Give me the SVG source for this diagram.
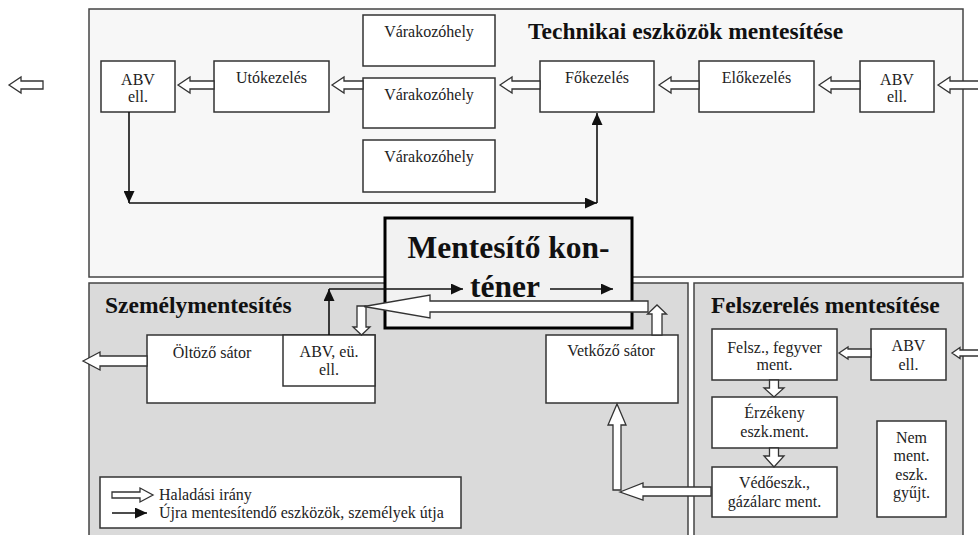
<svg xmlns="http://www.w3.org/2000/svg" width="978" height="535" viewBox="0 0 978 535">
<style>
.pt{fill:#f7f7f7;stroke:#444;stroke-width:1.5}
.pb{fill:#dadada;stroke:#444;stroke-width:1.5}
.box{fill:#fff;stroke:#333;stroke-width:1.5}
.cont{fill:#f2f2f2;stroke:#000;stroke-width:3}
.t{font-family:"Liberation Serif","Times New Roman",serif;font-size:16px;fill:#222;text-anchor:middle}
.tl{font-family:"Liberation Serif","Times New Roman",serif;font-size:16px;fill:#222}
.ti{font-family:"Liberation Serif","Times New Roman",serif;font-size:23.5px;font-weight:bold;fill:#111}
.big{font-family:"Liberation Serif","Times New Roman",serif;font-size:31.5px;font-weight:bold;fill:#111;text-anchor:middle}
.ha{fill:#fff;stroke:#333;stroke-width:1.3}
.bl{fill:none;stroke:#111;stroke-width:1.6;marker-end:url(#ah)}
</style>
<defs>
<marker id="ah" markerUnits="userSpaceOnUse" markerWidth="12" markerHeight="11" refX="12" refY="5.5" orient="auto">
<path d="M0,0 L12,5.5 L0,11 z" fill="#111"/>
</marker>
</defs>
<rect width="978" height="535" fill="#fff"/>
<g id="panel-technikai">
<rect class="pt" x="89" y="9" width="874" height="268"/>
<text class="ti" x="528" y="39">Technikai eszközök mentesítése</text>
</g>
<g id="panel-szemely">
<rect class="pb" x="89" y="283" width="599" height="262"/>
<text class="ti" x="105" y="313">Személymentesítés</text>
</g>
<g id="panel-felszereles">
<rect class="pb" x="694" y="283" width="269" height="262"/>
<text class="ti" x="711" y="313">Felszerelés mentesítése</text>
</g>
<g id="abv-ell-bal"><rect class="box" x="101" y="61" width="74" height="51"/><text class="t" x="138" y="85">ABV</text><text class="t" x="138" y="102">ell.</text></g>
<g id="utokezeles"><rect class="box" x="214" y="61" width="115" height="51"/><text class="t" x="271.5" y="83">Utókezelés</text></g>
<g id="varakozohely-1"><rect class="box" x="363" y="15" width="132" height="51"/><text class="t" x="429" y="37">Várakozóhely</text></g>
<g id="varakozohely-2"><rect class="box" x="363" y="78" width="132" height="50"/><text class="t" x="429" y="100">Várakozóhely</text></g>
<g id="varakozohely-3"><rect class="box" x="363" y="140" width="132" height="52"/><text class="t" x="429" y="162">Várakozóhely</text></g>
<g id="fokezeles"><rect class="box" x="540" y="61" width="114" height="51"/><text class="t" x="597" y="83">Főkezelés</text></g>
<g id="elokezeles"><rect class="box" x="699" y="61" width="115" height="51"/><text class="t" x="756.5" y="83">Előkezelés</text></g>
<g id="abv-ell-jobb"><rect class="box" x="860" y="61" width="74" height="51"/><text class="t" x="897" y="85">ABV</text><text class="t" x="897" y="102">ell.</text></g>
<g id="oltozo-sator"><rect class="box" x="147" y="335" width="228" height="68"/><text class="t" x="212" y="358">Öltöző sátor</text></g>
<g id="abv-eu-ell"><rect class="box" x="283" y="335" width="92" height="51"/><text class="t" x="329" y="357">ABV, eü.</text><text class="t" x="329" y="375">ell.</text></g>
<g id="vetkozo-sator"><rect class="box" x="546" y="335" width="132" height="68"/><text class="t" x="611" y="356">Vetkőző sátor</text></g>
<g id="felsz-fegyver"><rect class="box" x="712" y="329" width="125" height="51"/><text class="t" x="774.5" y="353">Felsz., fegyver</text><text class="t" x="774.5" y="370">ment.</text></g>
<g id="erzekeny"><rect class="box" x="712" y="397" width="125" height="51"/><text class="t" x="774.5" y="418">Érzékeny</text><text class="t" x="774.5" y="437">eszk.ment.</text></g>
<g id="vedoeszk"><rect class="box" x="712" y="467" width="125" height="50"/><text class="t" x="774.5" y="488">Védőeszk.,</text><text class="t" x="774.5" y="507">gázálarc ment.</text></g>
<g id="abv-ell-felsz"><rect class="box" x="871" y="329" width="75" height="51"/><text class="t" x="908.5" y="351">ABV</text><text class="t" x="908.5" y="370">ell.</text></g>
<g id="nem-ment"><rect class="box" x="877" y="421" width="69" height="96"/><text class="t" x="911.5" y="443">Nem</text><text class="t" x="911.5" y="461">ment.</text><text class="t" x="911.5" y="480">eszk.</text><text class="t" x="911.5" y="498">gyűjt.</text></g>
<g id="mentesito-kontener"><rect class="cont" x="385" y="218" width="247" height="110"/><text class="big" x="508.5" y="258">Mentesítő kon-</text><text class="big" x="505" y="297">téner</text></g>
<g id="connectors">
<polygon class="ha" points="9,85 21,77 21,81 43,81 43,89 21,89 21,93"/>
<polygon class="ha" points="178,85 190,77 190,81 214,81 214,89 190,89 190,93"/>
<polygon class="ha" points="332,85 344,77 344,81 363,81 363,89 344,89 344,93"/>
<polygon class="ha" points="500,85 512,77 512,81 540,81 540,89 512,89 512,93"/>
<polygon class="ha" points="659,85 671,77 671,81 699,81 699,89 671,89 671,93"/>
<polygon class="ha" points="819,85 831,77 831,81 860,81 860,89 831,89 831,93"/>
<polygon class="ha" points="938,85 950,77 950,81 980,81 980,89 950,89 950,93"/>
<path class="bl" d="M129,112 V203"/>
<path class="bl" d="M129,203 H597"/>
<path class="bl" d="M597,203 V113"/>
<path class="bl" d="M329,335 V289"/>
<path class="bl" d="M329,289 H463"/>
<path class="bl" d="M550,289 H613"/>
<polygon class="ha" points="357,306 366,306 366,327 370,327 361.5,335 353,327 357,327"/>
<polygon class="ha" points="364,306.5 430,295 430,301 648,301 648,312 430,312 430,318"/>
<polygon class="ha" points="652,335 652,314 647.5,314 657,305 666.5,314 662,314 662,335"/>
<polygon class="ha" points="83,361 100,352 100,356 147,356 147,366 100,366 100,370"/>
<polygon class="ha" points="613,490 613,425 608,425 617,404 626,425 621,425 621,490"/>
<polygon class="ha" points="620,492 643,483 643,487 711,487 711,496 643,496 643,500"/>
<polygon class="ha" points="839,353 848,347 848,349 871,349 871,357 848,357 848,359"/>
<polygon class="ha" points="952,353 960,347.5 960,350 980,350 980,356 960,356 960,358.5"/>
<polygon class="ha" points="769.5,380 778.5,380 778.5,388 784,388 774,397 764,388 769.5,388"/>
<polygon class="ha" points="769.5,448 778.5,448 778.5,456 784,456 774,467 764,456 769.5,456"/>
</g>
<g id="legend">
<rect class="box" x="100" y="477" width="361" height="51"/>
<polygon class="ha" points="112,492 140,492 140,488 153,495 140,502 140,498 112,498"/>
<path class="bl" d="M112,513 H147"/>
<text class="tl" x="159" y="500">Haladási irány</text>
<text class="tl" x="159" y="518">Újra mentesítendő eszközök, személyek útja</text>
</g>
</svg>
